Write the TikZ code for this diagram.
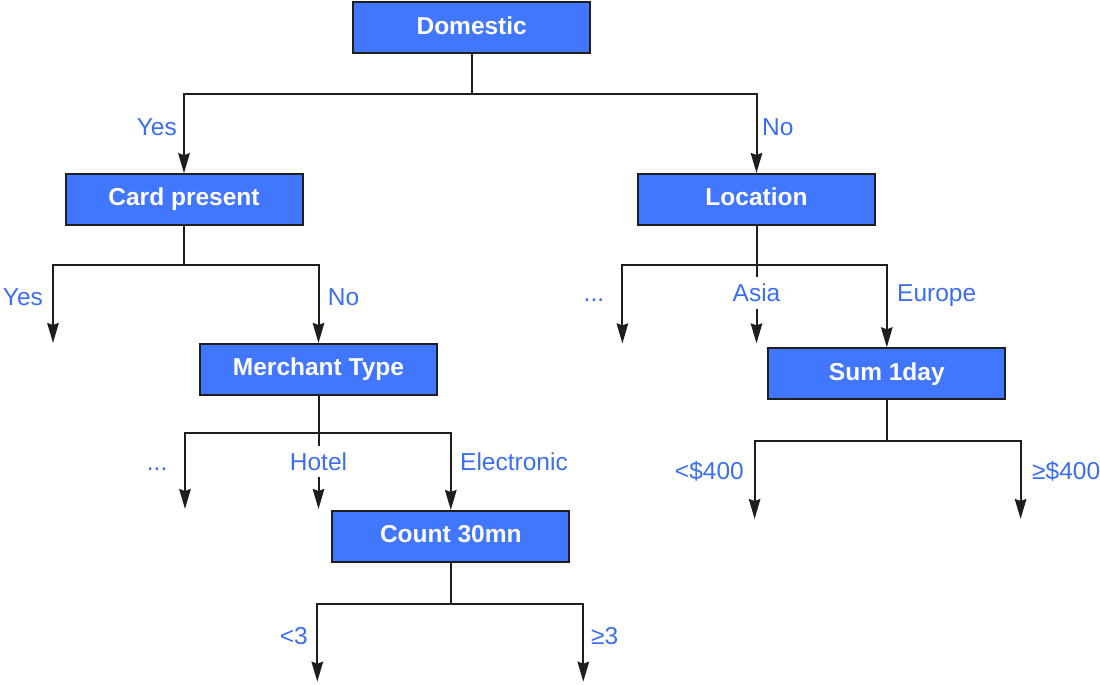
\documentclass[tikz,border=0pt]{standalone}
\usepackage{fontspec}
\setmainfont{Liberation Sans}
\usetikzlibrary{arrows.meta}
\definecolor{boxblue}{RGB}{65,118,255}
\definecolor{lblblue}{RGB}{59,110,240}
\definecolor{edge}{RGB}{30,30,30}
\begin{document}
\begin{tikzpicture}[x=1pt,y=-1pt,
  box/.style={draw=edge,line width=2pt,fill=boxblue,minimum width=237pt,minimum height=51pt,inner sep=0pt,
    text=white,font=\fontsize{24.5}{28}\selectfont\bfseries,text height=17.5pt,text depth=5pt},
  lbl/.style={text=lblblue,font=\fontsize{24.5}{28}\selectfont,inner sep=0pt,text height=17pt,text depth=0pt},
  mid/.style={lbl,inner ysep=7pt},
  conn/.style={draw=edge,line width=2pt},
  arr/.style={conn,-{Stealth[length=20pt,width=11.5pt,inset=2pt]}}]
\useasboundingbox (0,0) rectangle (1100,685);

% boxes
\node[box] (dom) at (471.7,28) {Domestic};
\node[box] (card) at (184,199.7) {Card present};
\node[box] (loc) at (756.5,199.5) {Location};
\node[box] (merch) at (318.5,369.5) {Merchant Type};
\node[box] (count) at (450.8,536.5) {Count 30mn};
\node[box] (sum) at (886.8,373.8) {Sum 1day};

% junctions and leaves
\coordinate (j0) at (471.7,94);
\coordinate (j1) at (184,265.3);
\coordinate (l1) at (53,343);
\coordinate (j2) at (318.5,432.7);
\coordinate (l2) at (185,509);
\coordinate (l2h) at (318.5,509);
\coordinate (j3) at (450.8,604);
\coordinate (l3a) at (317.3,681.7);
\coordinate (l3b) at (583.3,681.7);
\coordinate (j4) at (756.5,265);
\coordinate (l4) at (622.4,343.4);
\coordinate (l4a) at (756.5,343.4);
\coordinate (j5) at (886.8,441);
\coordinate (l5a) at (754.6,519);
\coordinate (l5b) at (1020.6,519);

% labels
\node[lbl,anchor=base east] (yes0) at (177,135.5) {Yes};
\node[lbl,anchor=base west] (no0) at (762,135.5) {No};
\node[lbl,anchor=base west] (yes1) at (2.7,305) {Yes};
\node[lbl,anchor=base west] (no1) at (327.7,305) {No};
\node[lbl,anchor=base west] (dots2) at (146.7,470) {...};
\node[mid,anchor=base] (hotel) at (318.5,470) {Hotel};
\node[lbl,anchor=base west] (elec) at (460,470) {Electronic};
\node[lbl,anchor=base east] (lt3) at (308,644) {<3};
\node[lbl,anchor=base west] (ge3) at (591,644) {≥3};
\node[lbl,anchor=base west] (dots4) at (583.5,301.5) {...};
\node[mid,anchor=base] (asia) at (756.5,301.5) {Asia};
\node[lbl,anchor=base west] (europe) at (897,301.5) {Europe};
\node[lbl,anchor=base east] (lt400) at (744,479.6) {<\$400};
\node[lbl,anchor=base west] (ge400) at (1032,479.6) {≥\$400};

% connectors
\draw[conn] (dom.south) -- (j0);
\draw[arr] (j0) -| (card.north);
\draw[arr] (j0) -| (loc.north);

\draw[conn] (card.south) -- (j1);
\draw[arr] (j1) -| (l1);
\draw[arr] (j1) -| (merch.north);

\draw[conn] (merch.south) -- (j2);
\draw[arr] (j2) -| (l2);
\draw[conn] (j2) -- (hotel);
\draw[arr] (hotel) -- (l2h);
\draw[arr] (j2) -| (count.north);

\draw[conn] (count.south) -- (j3);
\draw[arr] (j3) -| (l3a);
\draw[arr] (j3) -| (l3b);

\draw[conn] (loc.south) -- (j4);
\draw[arr] (j4) -| (l4);
\draw[conn] (j4) -- (asia);
\draw[arr] (asia) -- (l4a);
\draw[arr] (j4) -| (sum.north);

\draw[conn] (sum.south) -- (j5);
\draw[arr] (j5) -| (l5a);
\draw[arr] (j5) -| (l5b);
\end{tikzpicture}
\end{document}
